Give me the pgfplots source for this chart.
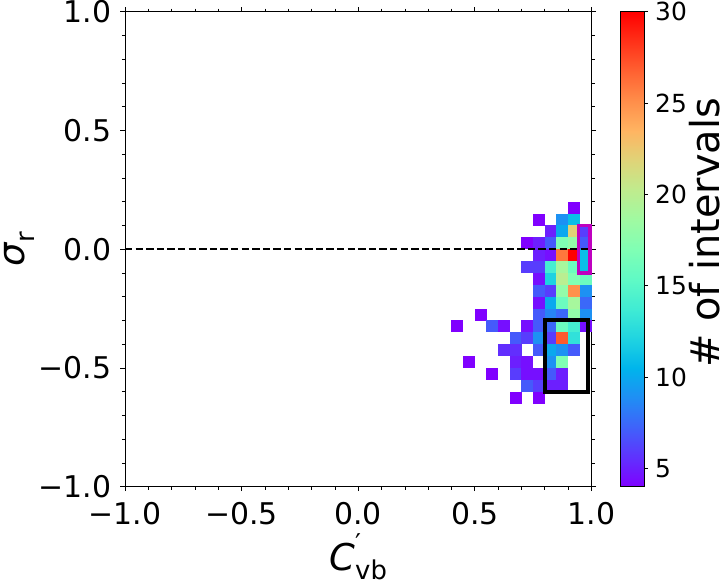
\documentclass[border=0pt]{standalone}
\usepackage{fontspec}
\setmainfont{DejaVu Sans}
\usepackage{pgfplots}
\pgfplotsset{compat=1.18}

% one histogram bin, 0.05 x 0.05 in data units
\pgfdeclareplotmark{cell}{%
  \pgfpathrectangle{\pgfpoint{-5.9bp}{-6bp}}{\pgfpoint{11.8bp}{12bp}}%
  \pgfusepathqfill}

\definecolor{boxmag}{rgb}{0.75,0,0.75}

% matplotlib "rainbow"
\pgfplotsset{
  colormap={mplrainbow}{
    rgb=(0.5,0,1) rgb=(0.375,0.195,0.995) rgb=(0.25,0.383,0.981)
    rgb=(0.125,0.556,0.957) rgb=(0,0.707,0.924) rgb=(0.125,0.831,0.882)
    rgb=(0.25,0.924,0.831) rgb=(0.375,0.981,0.773) rgb=(0.5,1,0.707)
    rgb=(0.625,0.981,0.634) rgb=(0.75,0.924,0.556) rgb=(0.875,0.831,0.471)
    rgb=(1,0.707,0.383) rgb=(1,0.556,0.290) rgb=(1,0.383,0.195)
    rgb=(1,0.195,0.098) rgb=(1,0,0)},
}

\pgfplotstableread{
x      y       c
0.925  0.175   4
0.775  0.125   4
0.875  0.125   9
0.925  0.125   11
0.825  0.075   5
0.875  0.075   10
0.925  0.075   22
0.975  0.075   6
0.725  0.025   4
0.775  0.025   5
0.825  0.025   7
0.875  0.025   17
0.925  0.025   18
0.975  0.025   7
0.775  -0.025  5
0.825  -0.025  4.5
0.875  -0.025  26
0.925  -0.025  30
0.975  -0.025  11
0.725  -0.075  6
0.775  -0.075  6
0.825  -0.075  14
0.875  -0.075  19
0.925  -0.075  16
0.975  -0.075  11
0.775  -0.125  4.5
0.825  -0.125  12
0.875  -0.125  20
0.925  -0.125  17
0.975  -0.125  16
0.775  -0.175  7
0.825  -0.175  6
0.875  -0.175  18
0.925  -0.175  25
0.975  -0.175  9
0.775  -0.225  4.5
0.825  -0.225  10
0.875  -0.225  16
0.925  -0.225  19
0.975  -0.225  7.5
0.525  -0.275  4
0.775  -0.275  7
0.825  -0.275  8.5
0.875  -0.275  7.5
0.925  -0.275  18
0.975  -0.275  9
0.425  -0.325  4
0.575  -0.325  7
0.625  -0.325  4.5
0.725  -0.325  4.5
0.775  -0.325  7
0.825  -0.325  7.5
0.875  -0.325  16
0.925  -0.325  14
0.975  -0.325  4.5
0.675  -0.375  7
0.725  -0.375  6
0.775  -0.375  9
0.825  -0.375  6
0.875  -0.375  27
0.925  -0.375  13
0.625  -0.425  5.5
0.675  -0.425  5.5
0.775  -0.425  7
0.825  -0.425  10
0.875  -0.425  9
0.925  -0.425  7
0.475  -0.475  4
0.675  -0.475  5
0.725  -0.475  4.5
0.825  -0.475  9
0.875  -0.475  17
0.575  -0.525  4
0.675  -0.525  6
0.725  -0.525  4.5
0.775  -0.525  4.5
0.825  -0.525  7
0.875  -0.525  5
0.725  -0.575  7
0.775  -0.575  6
0.825  -0.575  5
0.875  -0.575  5
0.675  -0.625  4
0.775  -0.625  4
}\bins

\begin{document}
\begin{tikzpicture}
\begin{axis}[
  set layers,
  at={(0,0)}, anchor=south west,
  scale only axis, width=466.5bp, height=475bp,
  xmin=-1, xmax=1, ymin=-1, ymax=1,
  xtick={-1,-0.5,0,0.5,1},
  xticklabels={−1.0,−0.5,0.0,0.5,1.0},
  ytick={-1,-0.5,0,0.5,1},
  yticklabels={−1.0,−0.5,0.0,0.5,1.0},
  minor x tick num=4, minor y tick num=4,
  tick align=outside,
  major tick length=4.5bp, minor tick length=3bp,
  every tick/.style={black, line width=0.8bp},
  axis line style={line width=1bp},
  ticklabel style={font=\fontsize{30}{36}\selectfont, inner sep=0pt},
  xticklabel style={yshift=-11bp},
  yticklabel style={xshift=-8.8bp},
  colormap name=mplrainbow,
  point meta min=4, point meta max=30,
]
\addplot[scatter, only marks, mark=cell, point meta=explicit]
  table[x=x, y=y, meta=c] {\bins};
\addplot[on layer=axis foreground, black, no marks, line width=2bp,
  dash pattern=on 7.4bp off 3.2bp]
  coordinates {(-1,0) (1,0)};
\begin{pgfonlayer}{axis foreground}
\draw[boxmag, line width=3.5bp]
  (axis cs:0.945,0.1) rectangle (axis cs:0.993,-0.1);
\draw[black, line width=4bp]
  (axis cs:0.8,-0.3) rectangle (axis cs:0.985,-0.6);
\end{pgfonlayer}
\end{axis}
% colour bar
\begin{axis}[
  at={(495bp,0)}, anchor=south west,
  scale only axis, width=24bp, height=475bp,
  xmin=0, xmax=1, ymin=4, ymax=30,
  xtick=\empty,
  ytick={5,10,15,20,25,30},
  yticklabels={5,10,15,20,25,30},
  ytick pos=right, yticklabel pos=right,
  tick align=outside, major tick length=4bp,
  every tick/.style={black, line width=0.8bp},
  axis line style={line width=0.8bp},
  yticklabel style={font=\fontsize{25}{30}\selectfont, inner sep=0pt, xshift=7bp},
  colormap name=mplrainbow,
  point meta min=4, point meta max=30,
  axis on top,
]
\addplot[surf, shader=interp, mesh/rows=2, mesh/cols=2, point meta=y]
  coordinates {(0,4) (1,4) (0,30) (1,30)};
\end{axis}
\node[anchor=base] at (233.25bp,-84bp)
  {\fontsize{37}{44}\selectfont\textit{C}\rlap{\raisebox{0.5em}{\fontsize{26}{26}\selectfont ′}}\raisebox{-0.25em}{\fontsize{26}{26}\selectfont vb}};
\node[anchor=base, rotate=90] at (-100bp,237.5bp)
  {\fontsize{37}{44}\selectfont\textit{σ}\raisebox{-0.25em}{\fontsize{26}{26}\selectfont r}};
\node[anchor=base, rotate=90] at (594bp,254bp)
  {\fontsize{40}{46}\selectfont \# of intervals};
\pgfresetboundingbox
\path (-125bp,-94.5bp) rectangle (595bp,486.7bp);
\end{tikzpicture}
\end{document}
